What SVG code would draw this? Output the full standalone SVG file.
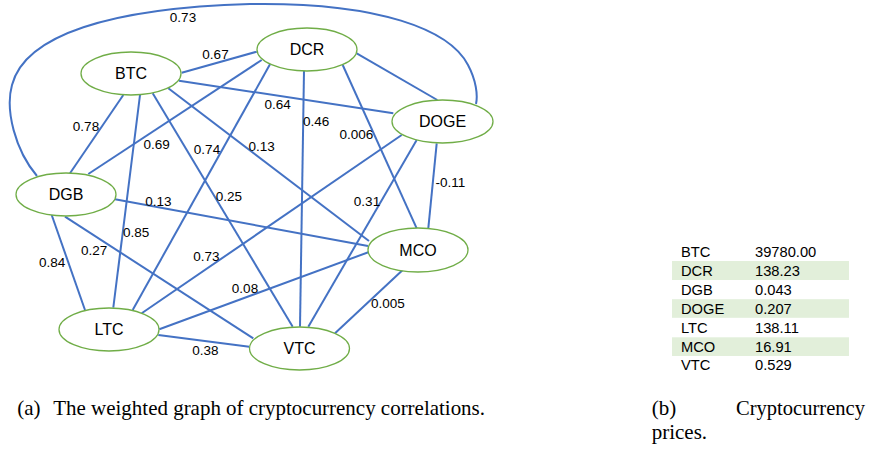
<svg xmlns="http://www.w3.org/2000/svg" width="870" height="449" viewBox="0 0 870 449">
<style>
.edge{stroke:#4472c4;stroke-width:2;fill:none}
.node ellipse{fill:#fff;stroke:#70ad47;stroke-width:1.3}
.node text{font-family:"Liberation Sans",Arial,sans-serif;font-size:16px;fill:#000;text-anchor:middle}
.lbl{font-family:"Liberation Sans",Arial,sans-serif;font-size:13.5px;fill:#000;text-anchor:middle}
.tbl{font-family:"Liberation Sans",Arial,sans-serif;font-size:14.7px;fill:#000}
.band{fill:#e2efda}
.cap{font-family:"Liberation Serif","Times New Roman",serif;font-size:21px;fill:#000}
</style>
<rect width="870" height="449" fill="#fff"/>
<g id="connectors">
<path class="edge" d="M37,176 C15,150 5,110 12,85 C25,35 110,8 250,4 C380,2 450,30 468,65 C476,80 478,95 476,104"/>
<line class="edge" x1="181.7" y1="72.7" x2="256.7" y2="51.7"/>
<line class="edge" x1="179" y1="80.7" x2="393.3" y2="113.3"/>
<line class="edge" x1="123.3" y1="95" x2="70" y2="173.3"/>
<line class="edge" x1="140" y1="95" x2="113.3" y2="307.7"/>
<line class="edge" x1="152.7" y1="93.3" x2="292.7" y2="326.7"/>
<line class="edge" x1="168.3" y1="88.3" x2="369" y2="241"/>
<line class="edge" x1="261.7" y1="60" x2="88.3" y2="174"/>
<line class="edge" x1="270" y1="64.3" x2="132.7" y2="310"/>
<line class="edge" x1="304" y1="71" x2="300" y2="326.7"/>
<line class="edge" x1="342.7" y1="65" x2="416.7" y2="228.3"/>
<line class="edge" x1="356.7" y1="53.3" x2="437.3" y2="100"/>
<line class="edge" x1="115" y1="199.3" x2="368" y2="246"/>
<line class="edge" x1="51.7" y1="215" x2="85" y2="310"/>
<line class="edge" x1="65" y1="216.7" x2="253.3" y2="338.3"/>
<line class="edge" x1="401.7" y1="135" x2="141.7" y2="313.3"/>
<line class="edge" x1="416.7" y1="140" x2="308.3" y2="326.7"/>
<line class="edge" x1="436.7" y1="143.3" x2="428.3" y2="228.3"/>
<line class="edge" x1="159.3" y1="329.3" x2="369" y2="252"/>
<line class="edge" x1="158.3" y1="335" x2="249.3" y2="346.7"/>
<line class="edge" x1="402.7" y1="270" x2="335" y2="333.3"/>
</g>
<g id="edge-labels">
<text class="lbl" x="183" y="22">0.73</text>
<text class="lbl" x="215.5" y="59">0.67</text>
<text class="lbl" x="277.7" y="109">0.64</text>
<text class="lbl" x="86" y="131">0.78</text>
<text class="lbl" x="156.7" y="148.5">0.69</text>
<text class="lbl" x="207" y="154">0.74</text>
<text class="lbl" x="261.7" y="150.7">0.13</text>
<text class="lbl" x="316.2" y="126">0.46</text>
<text class="lbl" x="356.3" y="139.3">0.006</text>
<text class="lbl" x="228.8" y="200.7">0.25</text>
<text class="lbl" x="158.3" y="205.7">0.13</text>
<text class="lbl" x="136.2" y="237.3">0.85</text>
<text class="lbl" x="94.2" y="255">0.27</text>
<text class="lbl" x="52.2" y="267.3">0.84</text>
<text class="lbl" x="206.3" y="260.7">0.73</text>
<text class="lbl" x="245" y="293.3">0.08</text>
<text class="lbl" x="205.3" y="355">0.38</text>
<text class="lbl" x="367" y="206">0.31</text>
<text class="lbl" x="450.5" y="186.7">-0.11</text>
<text class="lbl" x="388" y="308.3">0.005</text>
</g>
<g id="node-BTC" class="node"><ellipse cx="131" cy="73.5" rx="50" ry="21.5"/><text x="131" y="79.3">BTC</text></g>
<g id="node-DCR" class="node"><ellipse cx="307" cy="49.5" rx="50" ry="21.5"/><text x="307" y="55.3">DCR</text></g>
<g id="node-DOGE" class="node"><ellipse cx="442.5" cy="121.5" rx="50.5" ry="21.5"/><text x="442.5" y="127.3">DOGE</text></g>
<g id="node-DGB" class="node"><ellipse cx="66" cy="194.5" rx="50" ry="21.5"/><text x="66" y="200.3">DGB</text></g>
<g id="node-LTC" class="node"><ellipse cx="109" cy="329.5" rx="50" ry="21.5"/><text x="109" y="335.3">LTC</text></g>
<g id="node-MCO" class="node"><ellipse cx="418" cy="250" rx="50" ry="22"/><text x="418" y="255.8">MCO</text></g>
<g id="node-VTC" class="node"><ellipse cx="299.5" cy="348.5" rx="50" ry="21.5"/><text x="299.5" y="354.3">VTC</text></g>
<g id="price-table">
<rect class="band" x="672" y="261" width="177" height="19"/>
<rect class="band" x="672" y="299.2" width="177" height="18.6"/>
<rect class="band" x="672" y="337.3" width="177" height="18.7"/>
<text class="tbl" x="681" y="257">BTC</text><text class="tbl" x="755" y="257">39780.00</text>
<text class="tbl" x="681" y="276">DCR</text><text class="tbl" x="755" y="276">138.23</text>
<text class="tbl" x="681" y="295">DGB</text><text class="tbl" x="755" y="295">0.043</text>
<text class="tbl" x="681" y="313.7">DOGE</text><text class="tbl" x="755" y="313.7">0.207</text>
<text class="tbl" x="681" y="332.6">LTC</text><text class="tbl" x="755" y="332.6">138.11</text>
<text class="tbl" x="681" y="351.5">MCO</text><text class="tbl" x="755" y="351.5">16.91</text>
<text class="tbl" x="681" y="370.4">VTC</text><text class="tbl" x="755" y="370.4">0.529</text>
</g>
<g id="captions">
<text class="cap" x="17.3" y="415">(a)</text>
<text class="cap" x="53.3" y="415" textLength="431.7" lengthAdjust="spacingAndGlyphs">The weighted graph of cryptocurrency correlations.</text>
<text class="cap" x="651.7" y="415">(b)</text>
<text class="cap" x="736" y="415" textLength="129" lengthAdjust="spacingAndGlyphs">Cryptocurrency</text>
<text class="cap" x="651.7" y="439">prices.</text>
</g>
</svg>
